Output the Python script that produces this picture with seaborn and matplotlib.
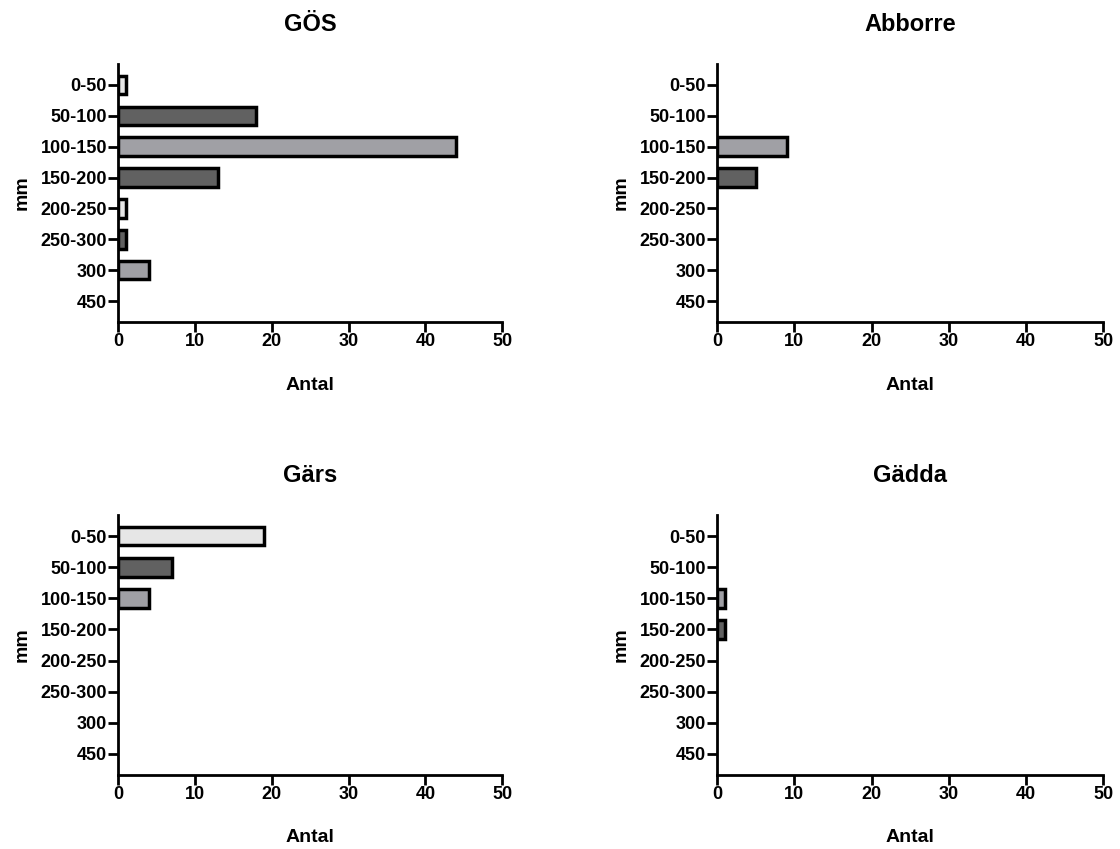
import pandas as pd
import matplotlib
matplotlib.use("Agg")
import matplotlib.pyplot as plt
import seaborn as sns

# Length classes (mm) and counts per species
length_classes = ["0-50", "50-100", "100-150", "150-200", "200-250", "250-300", "300", "450"]
gos_counts = [1, 18, 44, 13, 1, 1, 4, 0]
abborre_counts = [0, 0, 9, 5, 0, 0, 0, 0]
gars_counts = [19, 7, 4, 0, 0, 0, 0, 0]
gadda_counts = [0, 0, 1, 1, 0, 0, 0, 0]

species = ["GÖS", "Abborre", "Gärs", "Gädda"]
x_ticks = [0, 10, 20, 30, 40, 50]

# Fill colour per length class
bar_colors = ["#e6e6e6", "#616161", "#a0a0a5", "#616161",
              "#e6e6e6", "#616161", "#a0a0a5", "#616161"]

sns.set_theme(style="white")
plt.rcParams["font.family"] = ["Liberation Sans", "DejaVu Sans"]
plt.rcParams["font.weight"] = "bold"
plt.rcParams["text.color"] = "black"
plt.rcParams["axes.labelcolor"] = "black"

fig = plt.figure(figsize=(11.2, 8.49), dpi=100)

positions = [
    [0.1054, 0.6207, 0.343, 0.304],
    [0.6402, 0.6207, 0.345, 0.304],
    [0.1054, 0.0872, 0.343, 0.3062],
    [0.6402, 0.0872, 0.345, 0.3062],
]
all_counts = [gos_counts, abborre_counts, gars_counts, gadda_counts]
palette = dict(zip(length_classes, bar_colors))

for name, counts, pos in zip(species, all_counts, positions):
    ax = fig.add_axes(pos)
    df = pd.DataFrame({"mm": length_classes, "Antal": counts})
    # empty classes get no bar (otherwise the outline shows on the axis)
    df = df[df["Antal"] > 0]
    sns.barplot(
        data=df, x="Antal", y="mm", hue="mm", order=length_classes,
        hue_order=length_classes, palette=palette, orient="h",
        width=0.6, edgecolor="black", linewidth=2.5, legend=False,
        saturation=1, ax=ax,
    )
    ax.set_xlim(0, 50)
    ax.set_ylim(7.68, -0.68)
    ax.set_xticks(x_ticks)
    ax.set_title(name, fontsize=17, fontweight="bold", pad=24)
    ax.set_xlabel("Antal", fontsize=14, fontweight="bold", labelpad=19)
    ax.set_ylabel("mm", fontsize=14, fontweight="bold", labelpad=7)
    for side in ["top", "right"]:
        ax.spines[side].set_visible(False)
    for side in ["left", "bottom"]:
        ax.spines[side].set_linewidth(2)
        ax.spines[side].set_color("black")
    ax.tick_params(axis="both", which="major", length=7, width=2,
                   color="black", labelcolor="black", labelsize=13,
                   left=True, bottom=True, pad=1)
    for lab in ax.get_xticklabels() + ax.get_yticklabels():
        lab.set_fontweight("bold")

fig.savefig("out.png", dpi=100, facecolor="white")
